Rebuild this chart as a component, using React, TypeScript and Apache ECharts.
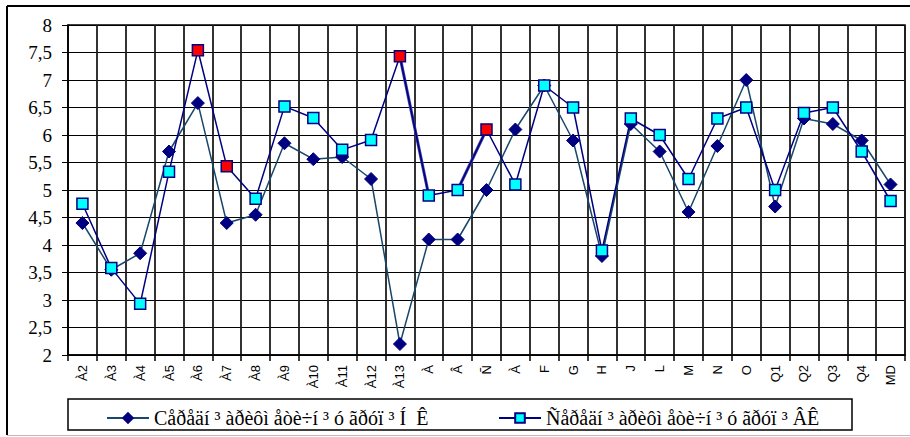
import React, { useEffect, useRef } from "react";
import * as echarts from "echarts";

const categories = ["À2", "À3", "À4", "À5", "À6", "À7", "À8", "À9", "À10", "À11", "À12", "À13", "À", "Â", "Ñ", "À", "F", "G", "H", "J", "L", "M", "N", "O", "Q1", "Q2", "Q3", "Q4", "MD"];
const seriesNK = [4.4, 3.55, 3.85, 5.7, 6.58, 4.4, 4.55, 5.85, 5.56, 5.6, 5.2, 2.2, 4.1, 4.1, 5.0, 6.1, 6.9, 5.9, 3.8, 6.2, 5.7, 4.6, 5.8, 7.0, 4.7, 6.3, 6.2, 5.9, 5.1];
const seriesVK = [4.75, 3.58, 2.93, 5.33, 7.54, 5.43, 4.84, 6.52, 6.31, 5.73, 5.91, 7.43, 4.9, 5.0, 6.1, 5.1, 6.9, 6.5, 3.9, 6.3, 6.0, 5.2, 6.3, 6.5, 5.0, 6.4, 6.5, 5.7, 4.8];
const redIndices = [4, 5, 11, 14];
const thickSegments = [[11, 12], [13, 14]];
const nameNK = "Cåðåäí ³ àðèôì åòè÷í ³ ó ãðóï ³ Í  Ê";
const nameVK = "Ñåðåäí ³ àðèôì åòè÷í ³ ó ãðóï ³ ÂÊ";
const yMin = 2;
const yMax = 8;
const yStep = 0.5;

export default function App() {
  const ref = useRef<HTMLDivElement>(null);
  useEffect(() => {
    if (!ref.current) return;
    const chart = echarts.init(ref.current, null, { renderer: "svg" });
    const serif = "Liberation Serif";
    const sans = "Liberation Sans";

    const vkData = seriesVK.map((v, i) =>
      redIndices.includes(i)
        ? { value: v, itemStyle: { color: "#ff0000", borderColor: "#000080" } }
        : v
    );

    const thickSeries = thickSegments.map((seg, k) => ({
      name: "seg" + k,
      type: "line",
      data: seriesVK.map((v, i) => (seg.includes(i) ? v : null)),
      showSymbol: false,
      symbol: "none",
      silent: true,
      z: 1,
      lineStyle: { color: "#3a3aa8", width: 3 },
    }));

    chart.setOption({
      animation: false,
      backgroundColor: "#ffffff",
      grid: {
        left: 68,
        top: 25,
        width: 837,
        height: 330,
        show: true,
        borderColor: "#000",
        borderWidth: 1.5,
        backgroundColor: "transparent",
      },
      legend: [
        {
          data: [nameNK],
          left: 101,
          top: 403,
          itemWidth: 42,
          itemHeight: 12,
          itemGap: 4,
          textStyle: { fontFamily: serif, fontSize: 20, color: "#000" },
        },
        {
          data: [nameVK],
          left: 493,
          top: 403,
          itemWidth: 42,
          itemHeight: 12,
          itemGap: 4,
          textStyle: { fontFamily: serif, fontSize: 20, color: "#000" },
        },
      ],
      xAxis: [
        {
          type: "category",
          data: categories,
          boundaryGap: true,
          axisLine: { show: true, lineStyle: { color: "#000", width: 1.5 } },
          axisTick: { show: true, length: 6, interval: 0, lineStyle: { color: "#000", width: 1.5 } },
          splitLine: { show: true, interval: 0, lineStyle: { color: "#1c1c1c", width: 1.8, type: "solid" } },
          axisLabel: {
            interval: 0,
            rotate: 90,
            margin: 10,
            fontFamily: sans,
            fontSize: 13,
            color: "#000",
          },
        },
      ],
      yAxis: [
        {
          type: "value",
          min: yMin,
          max: yMax,
          interval: yStep,
          axisLine: { show: true, lineStyle: { color: "#000", width: 1.5 } },
          axisTick: { show: true, length: 6, lineStyle: { color: "#000" } },
          splitLine: { show: true, lineStyle: { color: "#000", width: 1 } },
          axisLabel: {
            margin: 16,
            fontFamily: serif,
            fontSize: 19,
            color: "#000",
            formatter: (v: number) => String(v).replace(".", ","),
          },
        },
      ],
      series: [
        {
          name: nameNK,
          type: "line",
          data: seriesNK,
          symbol: "diamond",
          symbolSize: [13, 13],
          z: 2,
          lineStyle: { color: "#17476b", width: 1.5 },
          itemStyle: { color: "#000080", borderColor: "#000080", borderWidth: 1 },
        },
        ...thickSeries,
        {
          name: nameVK,
          type: "line",
          data: vkData,
          symbol: "rect",
          symbolSize: 11,
          z: 3,
          lineStyle: { color: "#000080", width: 1.5 },
          itemStyle: { color: "#00ffff", borderColor: "#000080", borderWidth: 1.5 },
        },
      ],
      graphic: [
        {
          type: "line",
          shape: { x1: 7, y1: 6, x2: 910, y2: 6 },
          style: { stroke: "#000", lineWidth: 2 },
        },
        {
          type: "line",
          shape: { x1: 7, y1: 6, x2: 7, y2: 435 },
          style: { stroke: "#000", lineWidth: 2 },
        },
        {
          type: "line",
          shape: { x1: 7, y1: 435.5, x2: 910, y2: 435.5 },
          style: { stroke: "#bbb", lineWidth: 1 },
        },
        {
          type: "rect",
          shape: { x: 68, y: 399, width: 784, height: 31 },
          style: { fill: "none", stroke: "#000", lineWidth: 1.5 },
        },
      ],
    });
    return () => chart.dispose();
  }, []);
  return (
    <div
      ref={ref}
      style={{ position: "fixed", left: 0, top: 0, width: 910, height: 437 }}
    />
  );
}
